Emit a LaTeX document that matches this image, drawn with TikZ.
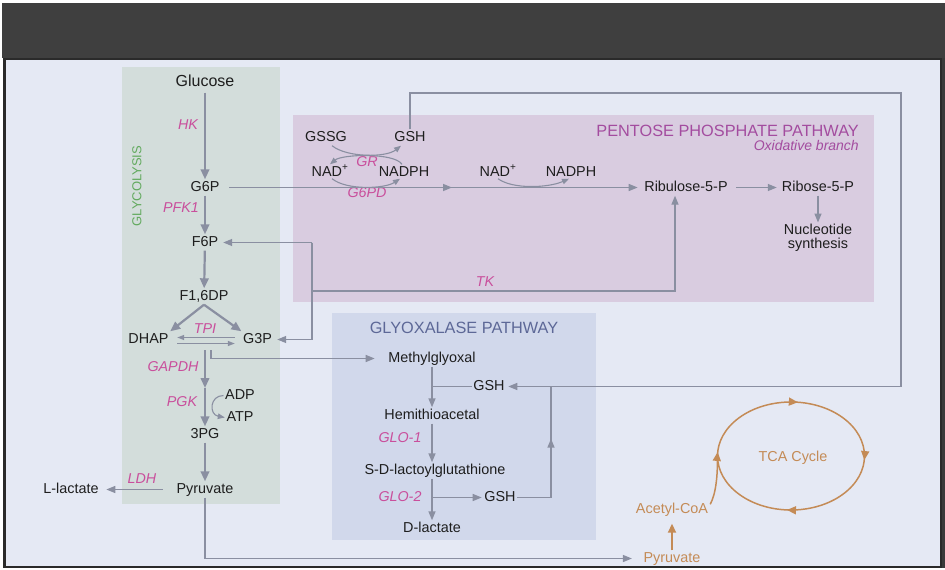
\documentclass[tikz,border=0pt]{standalone}
\usepackage{fontspec}
\setmainfont{Liberation Sans}
\usetikzlibrary{arrows.meta,decorations.markings,calc}
\definecolor{band}{HTML}{3F3F3F}
\definecolor{band2}{HTML}{3A3A3A}
\definecolor{frame}{HTML}{2A2A2A}
\definecolor{panel}{HTML}{E5E9F4}
\definecolor{glyc}{HTML}{D3DDDB}
\definecolor{pppc}{HTML}{D9CCE0}
\definecolor{glyx}{HTML}{D1D8EB}
\definecolor{lc}{HTML}{8A8FA1}
\definecolor{txt}{HTML}{1E1E1E}
\definecolor{enzc}{HTML}{C94F9C}
\definecolor{ppt}{HTML}{A34C9F}
\definecolor{gxt}{HTML}{5D6897}
\definecolor{grn}{HTML}{63AA5F}
\definecolor{org}{HTML}{C48B56}
\begin{document}
\begin{tikzpicture}[x=1pt,y=-1pt,
  lbl/.style={font=\fontsize{14.4}{14}\selectfont, text=txt, inner sep=1.5pt, text height=10pt, text depth=3pt, yshift=-1.5pt},
  enz/.style={lbl, font=\fontsize{14.3}{14}\selectfont\itshape, text=enzc},
  ttl/.style={font=\fontsize{16.3}{18}\selectfont, inner sep=1pt},
  gcon/.style={color=lc, line width=2.2pt, -{Triangle[length=10pt,width=8.5pt]}},
  con/.style={color=lc, line width=1.4pt, -{Triangle[length=9pt,width=7pt]}},
  ln/.style={color=lc, line width=1.4pt},
  tpi/.style={color=lc, line width=1.2pt, -{Triangle[length=7pt,width=5pt]}},
  arcc/.style={color=lc, line width=1.1pt, -{Triangle[length=7pt,width=5.5pt]}},
  midarr/.style={postaction={decorate}, decoration={markings, mark=at position #1 with {\arrow{Triangle[length=9pt,width=7pt]}}}},
  orgl/.style={color=org, line width=1.5pt},
  orgc/.style={color=org, line width=1.8pt, -{Triangle[length=9pt,width=8pt]}},
  tcaarr/.style={postaction={decorate}, decoration={markings,
     mark=at position 0.123 with {\arrow{Triangle[length=9pt,width=8pt]}},
     mark=at position 0.373 with {\arrow{Triangle[length=9pt,width=8pt]}},
     mark=at position 0.623 with {\arrow{Triangle[length=9pt,width=8pt]}},
     mark=at position 0.880 with {\arrow{Triangle[length=9pt,width=8pt]}}}}
]
\useasboundingbox (0,0) rectangle (945,570);
\fill[white] (0,0) rectangle (945,570);
\fill[band] (2,3) rectangle (945,58);
\fill[band2] (939,58) rectangle (945,568);
\draw[fill=panel, draw=frame, line width=2.5pt] (4.5,59) rectangle (941,567);

% boxes
\fill[glyc] (122,67) rectangle (280,504);
\fill[pppc] (293,115) rectangle (874,302);
\fill[glyx] (332,313) rectangle (596,540);

% glycolysis nodes
\node[lbl, font=\fontsize{16}{16}\selectfont] (gluc) at (205,81) {Glucose};
\node[lbl] (g6p) at (205,186) {G6P};
\node[lbl] (f6p) at (205,241) {F6P};
\node[lbl] (f16) at (204,295) {F1,6DP};
\node[lbl] (dhap) at (148.5,338) {DHAP};
\node[lbl] (g3p) at (257.5,338) {G3P};
\node[lbl] (adp) at (240,394) {ADP};
\node[lbl] (atp) at (240,416) {ATP};
\node[lbl] (pg3) at (205,433) {3PG};
\node[lbl] (pyr) at (205,488) {Pyruvate};
\node[lbl] (llac) at (71,488) {L-lactate};
\node[enz] (hk) at (188,124) {HK};
\node[enz] (pfk) at (181,207) {PFK1};
\node[enz] (tpil) at (205,328) {TPI};
\node[enz] (gapdh) at (173,366) {GAPDH};
\node[enz] (pgk) at (182,401) {PGK};
\node[enz] (ldh) at (142,478) {LDH};
\node[font=\fontsize{13}{14}\selectfont, text=grn, rotate=90] (glyt) at (137,186) {GLYCOLYSIS};

% PPP nodes
\node[ttl, text=ppt, anchor=east] (pptl) at (860,131) {PENTOSE PHOSPHATE PATHWAY};
\node[font=\fontsize{14}{14}\selectfont\itshape, text=ppt, anchor=east, inner sep=1pt] (oxb) at (860,145) {Oxidative branch};
\node[lbl] (gssg) at (326,136) {GSSG};
\node[lbl] (gsh1) at (410,136) {GSH};
\node[lbl] (nad1) at (330,171) {NAD\textsuperscript{+}};
\node[lbl] (nadph1) at (404,171) {NADPH};
\node[enz] (gr) at (367,161) {GR};
\node[enz] (g6pd) at (367,192) {G6PD};
\node[lbl] (nad2) at (498,171) {NAD\textsuperscript{+}};
\node[lbl] (nadph2) at (571,171) {NADPH};
\node[lbl] (ribu) at (686,186) {Ribulose-5-P};
\node[lbl] (ribo) at (818,186) {Ribose-5-P};
\node[font=\fontsize{14.4}{14}\selectfont, text=txt, inner sep=1.5pt, align=center, anchor=north] (nuc) at (818,222.5) {Nucleotide\\synthesis};
\node[enz] (tk) at (485,281) {TK};

% glyoxalase nodes
\node[ttl, text=gxt] (gxtl) at (464,328) {GLYOXALASE PATHWAY};
\node[lbl] (mg) at (432,357) {Methylglyoxal};
\node[lbl] (gsh2) at (489,385) {GSH};
\node[lbl] (hemi) at (432,414) {Hemithioacetal};
\node[enz] (glo1) at (400,437) {GLO-1};
\node[lbl] (sdl) at (435,469) {S-D-lactoylglutathione};
\node[enz] (glo2) at (400,496) {GLO-2};
\node[lbl] (gsh3) at (500,496) {GSH};
\node[lbl] (dlac) at (432,527) {D-lactate};

% TCA nodes
\node[lbl, text=org] (tca) at (793,456) {TCA Cycle};
\node[lbl, text=org] (acoa) at (672,508) {Acetyl-CoA};
\node[lbl, text=org] (pyr2) at (672,557) {Pyruvate};

% coordinates
\coordinate (gaA) at (205,350);
\coordinate (gaB) at (205,388);
\coordinate (m1) at (211,350);
\coordinate (tkA) at (312,242.5);
\coordinate (tkB) at (312,339.5);
\coordinate (tkC) at (312,291);
\coordinate (o1) at (410,93);
\coordinate (o2) at (901,93);
\coordinate (o3) at (901,386.5);
\coordinate (r1) at (551,497.5);
\coordinate (r2) at (551,386.5);
\coordinate (tcS) at (842.97,417.82);
\coordinate (tcL) at (717.5,458);

% glycolysis connectors
\draw[gcon, shorten <=2pt] (gluc) -- (g6p);
\draw[gcon] (g6p) -- (f6p);
\draw[gcon] (f6p) -- (f16);
\draw[gcon] (f16.south) -- (dhap.north east);
\draw[gcon] (f16.south) -- (g3p.north west);
\draw[tpi] ([xshift=-6.6pt,yshift=2pt]g3p.west) -- ([xshift=7pt,yshift=2pt]dhap.east);
\draw[tpi] ([xshift=7pt,yshift=-4pt]dhap.east) -- ([xshift=-6.6pt,yshift=-4pt]g3p.west);
\draw[gcon] (gaA) -- (gaB);
\draw[gcon] (gaB) -- (pg3);
\draw[arcc] (adp.west) .. controls +(-14,0) and +(-16,-3) .. (atp.west);
\draw[gcon] (pg3) -- (pyr);
\draw[con, shorten <=12pt, shorten >=6pt] (pyr.west) -- (llac.east);
\draw[con] (pyr.south) |- ([xshift=-10pt]pyr2.west);
\draw[con, shorten >=12pt] (m1) |- (mg.west);

% PPP connectors
\draw[con, shorten >=5pt, midarr=0.539] ([xshift=8pt]g6p.east) -- (ribu.west);
\draw[con, shorten <=7pt, shorten >=3.5pt] (ribu.east) -- (ribo.west);
\draw[con] (ribo.south) -- (nuc.north);
\draw[arcc] ([xshift=6pt]gssg.south) .. controls +(15,12) and +(-15,12) .. ([xshift=-9pt]gsh1.south);
\draw[arcc] ([xshift=-2pt]nadph1.north) .. controls +(-8,-12) and +(12,-10) .. (nad1.north);
\draw[arcc] ([xshift=2pt,yshift=2pt]nad1.south) .. controls +(15,12) and +(-15,10) .. ([xshift=-4pt,yshift=2pt]nadph1.south);
\draw[arcc] ([yshift=2pt]nad2.south) .. controls +(15,11) and +(-20,9) .. ([xshift=-2pt,yshift=2pt]nadph2.south);

% TK connectors
\draw[ln] (tkA) -- (tkB);
\draw[con, shorten >=3.3pt] (tkA) -- (f6p.east);
\draw[con, shorten >=3.6pt] (tkB) -- (g3p.east);
\draw[con] (tkC) -| ([xshift=-11pt]ribu.south);

% GSH loop
\draw[con, shorten >=2pt] (gsh1.north) -- (o1) -- (o2) -- (o3) -- (gsh2.east);

% glyoxalase connectors
\draw[con] (mg.south) -- (hemi.north);
\draw[ln] (gsh2.west) -- (gsh2.west -| mg.south);
\draw[con] (hemi.south) -- (hemi.south |- sdl.north);
\draw[con] (dlac.north |- sdl.south) -- (dlac.north);
\draw[con, shorten >=1pt] (dlac.north |- gsh3.west) -- (gsh3.west);
\draw[ln] (gsh3.east) -- (r1);
\draw[ln, midarr=0.53] (r1) -- (r2);

% TCA
\draw[orgl, tcaarr] (tcS) arc[start angle=-45, end angle=315, x radius=73.5, y radius=54];
\draw[orgl] ([xshift=0.5pt,yshift=-3pt]acoa.north east) .. controls +(6,-11) and +(0,17) .. (tcL);
\draw[orgc, shorten >=6pt] (pyr2.north) -- (acoa.south);
\end{tikzpicture}
\end{document}
